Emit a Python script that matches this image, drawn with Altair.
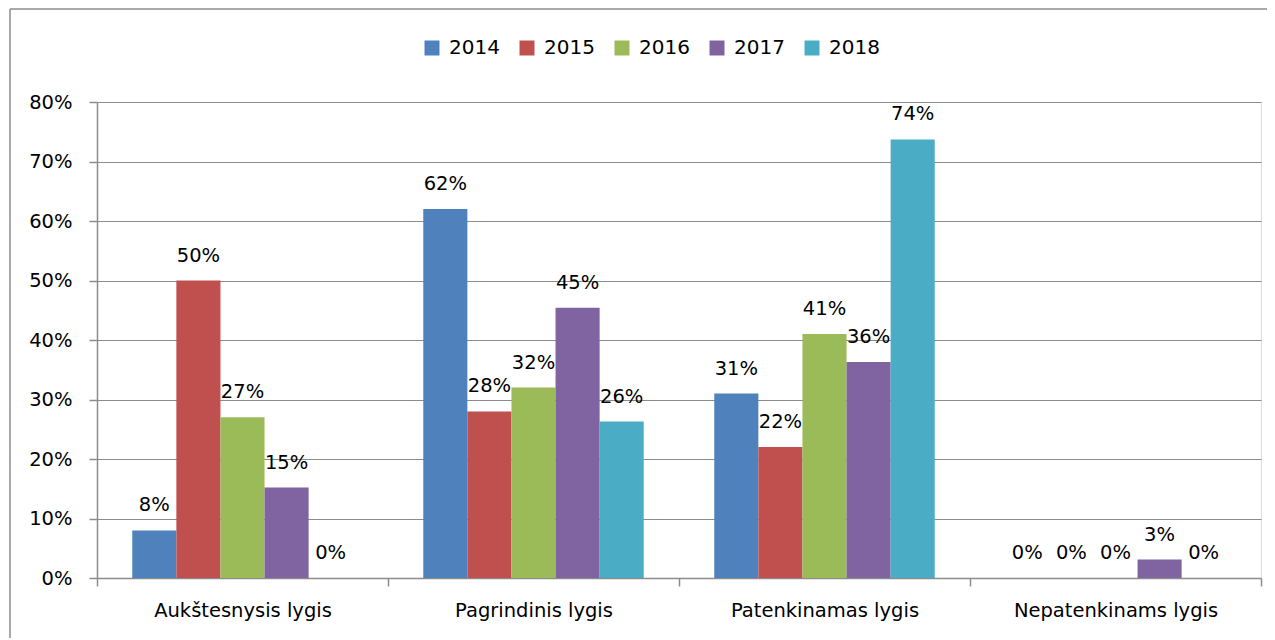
import altair as alt
import pandas as pd

categories = ["Aukštesnysis lygis", "Pagrindinis lygis", "Patenkinamas lygis", "Nepatenkinams lygis"]
years = ["2014", "2015", "2016", "2017", "2018"]
v2014 = [0.08, 0.62, 0.31, 0.0]
v2015 = [0.50, 0.28, 0.22, 0.0]
v2016 = [0.27, 0.32, 0.41, 0.0]
v2017 = [0.152, 0.454, 0.363, 0.031]
v2018 = [0.0, 0.263, 0.737, 0.0]
colors = ["#4F81BD", "#C0504D", "#9BBB59", "#8064A2", "#4BACC6"]
y_ticks = [0, 0.1, 0.2, 0.3, 0.4, 0.5, 0.6, 0.7, 0.8]

series = [v2014, v2015, v2016, v2017, v2018]
rows = []
for yr, vals in zip(years, series):
    for cat, v in zip(categories, vals):
        rows.append({"cat": cat, "year": yr, "value": v})
df = pd.DataFrame(rows)

FONT = "DejaVu Sans"
FS = 19.5
GRID = "#8c8c8c"
W, H = 1164, 476

x_enc = alt.X("cat:N", sort=categories, title=None,
              scale=alt.Scale(paddingInner=0, paddingOuter=0),
              axis=alt.Axis(tickBand="extent", labelAngle=0, labelFontSize=FS,
                            labelFont=FONT, labelColor="#000000", labelPadding=15,
                            labelLimit=400,
                            tickSize=8, tickColor=GRID, domainColor=GRID,
                            tickWidth=1.5, domainWidth=1.5, grid=False))
xo_enc = alt.XOffset("year:N", sort=years,
                     scale=alt.Scale(paddingInner=0, paddingOuter=0.8))
y_enc = alt.Y("value:Q", title=None,
              scale=alt.Scale(domain=[0, 0.8], nice=False),
              axis=alt.Axis(values=y_ticks, format=".0%", labelFontSize=FS,
                            labelFont=FONT, labelColor="#000000", labelPadding=17,
                            tickSize=8, tickColor=GRID, domainColor=GRID,
                            tickWidth=1.5, domainWidth=1.5,
                            grid=True, gridColor=GRID, gridWidth=1.2))

bars = alt.Chart(df).mark_bar().encode(
    x=x_enc, xOffset=xo_enc, y=y_enc,
    color=alt.Color("year:N", sort=years,
                    scale=alt.Scale(domain=years, range=colors),
                    legend=alt.Legend(title=None, orient="none", direction="horizontal",
                                      legendX=325, legendY=-64, padding=0,
                                      symbolType="square", symbolSize=225,
                                      symbolStrokeWidth=0, labelFontSize=20,
                                      labelFont=FONT, labelColor="#000000",
                                      labelOffset=7, columnPadding=17)),
)

labels = alt.Chart(df).mark_text(fontSize=FS, font=FONT, color="#000000",
                                 align="center", baseline="alphabetic", dy=-19).encode(
    x=alt.X("cat:N", sort=categories), xOffset=alt.XOffset("year:N", sort=years),
    y="value:Q", text=alt.Text("value:Q", format=".0%"),
)

frame_data = alt.Data(values=[{"a": 1}])
left_line = alt.Chart(frame_data).mark_rule(color=GRID, strokeWidth=1.5).encode(
    x=alt.value(-87), y=alt.value(-93), y2=alt.value(H + 80))
top_line = alt.Chart(frame_data).mark_rule(color=GRID, strokeWidth=1.5).encode(
    x=alt.value(-87), x2=alt.value(W + 20), y=alt.value(-93))

chart = alt.layer(bars, labels, left_line, top_line).properties(
    width=W, height=H,
    padding={"left": 89, "top": 94, "right": 6, "bottom": 60},
    autosize=alt.AutoSizeParams(type="none"),
).configure_view(stroke=None).configure(background="white")

chart.save("out.html", embed_options={"renderer": "svg", "actions": False})
